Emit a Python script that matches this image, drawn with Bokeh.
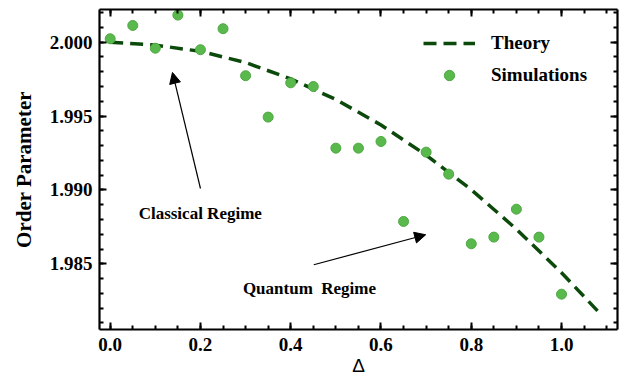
from bokeh.plotting import figure
from bokeh.models import (LinearAxis, SingleIntervalTicker, NumeralTickFormatter,
                          CustomJSTickFormatter, Legend, LegendItem, Arrow, NormalHead,
                          Label, Range1d)
from bokeh.embed import file_html
from bokeh.resources import INLINE

# ---- data ----
sim_delta = [0.00, 0.05, 0.10, 0.15, 0.20, 0.25, 0.30, 0.35, 0.40, 0.45, 0.50,
             0.55, 0.60, 0.65, 0.70, 0.75, 0.80, 0.85, 0.90, 0.95, 1.00]
sim_order = [2.00023, 2.00113, 1.99959, 2.00183, 1.99949, 2.00091, 1.99773,
             1.99493, 1.99725, 1.99700, 1.99283, 1.99283, 1.99328, 1.98787,
             1.99256, 1.99107, 1.98636, 1.98681, 1.98870, 1.98681, 1.98295]

theory_delta = [0.00, 0.10, 0.20, 0.30, 0.40, 0.50, 0.60, 0.70, 0.80, 0.90, 1.00, 1.082]
theory_order = [2.00000, 1.99980, 1.99938, 1.99862, 1.99752, 1.99612, 1.99440,
                1.99236, 1.99002, 1.98735, 1.98440, 1.98175]

x_ticks_interval = 0.2
y_ticks_interval = 0.005

SERIF = "Liberation Serif"
SANS = "Liberation Sans"

p = figure(width=626, height=378, output_backend="svg", toolbar_location=None,
           x_range=Range1d(-0.0237, 1.124), y_range=Range1d(1.98056, 2.00221),
           min_border_left=99, min_border_right=9, min_border_top=9, min_border_bottom=49,
           x_axis_location=None, y_axis_location=None)
p.frame_width = 518
p.frame_height = 320
p.outline_line_color = None
p.xgrid.visible = False
p.ygrid.visible = False
p.background_fill_color = "white"
p.border_fill_color = "white"

blank = CustomJSTickFormatter(code="return ''")


def style_axis(ax, show_labels):
    ax.axis_line_width = 2.2
    ax.axis_line_color = "black"
    ax.major_tick_in = 7
    ax.major_tick_out = 0
    ax.minor_tick_in = 4
    ax.minor_tick_out = 0
    ax.major_tick_line_width = 2
    ax.minor_tick_line_width = 2
    ax.major_tick_line_color = "black"
    ax.minor_tick_line_color = "black"
    if show_labels:
        ax.major_label_text_font = SERIF
        ax.major_label_text_font_style = "bold"
        ax.major_label_text_font_size = "19px"
        ax.major_label_text_color = "black"
    else:
        ax.formatter = blank
        ax.major_label_standoff = 0


xt = SingleIntervalTicker(interval=x_ticks_interval, num_minor_ticks=4)
yt = SingleIntervalTicker(interval=y_ticks_interval, num_minor_ticks=5)

xb = LinearAxis(ticker=xt, formatter=NumeralTickFormatter(format="0.0"), axis_label="Δ")
style_axis(xb, True)
xb.major_label_standoff = 8
xb.axis_label_standoff = 1
xb.axis_label_text_font = SANS
xb.axis_label_text_font_style = "normal"
xb.axis_label_text_font_size = "19px"
xb.axis_label_text_color = "black"
p.add_layout(xb, "below")

yl = LinearAxis(ticker=yt, formatter=NumeralTickFormatter(format="0.000"),
                axis_label="Order Parameter")
style_axis(yl, True)
yl.major_label_standoff = 7
yl.axis_label_standoff = 11
yl.axis_label_text_font = SERIF
yl.axis_label_text_font_style = "bold"
yl.axis_label_text_font_size = "21px"
yl.axis_label_text_color = "black"
p.add_layout(yl, "left")

xt2 = LinearAxis(ticker=xt)
style_axis(xt2, False)
p.add_layout(xt2, "above")

yr = LinearAxis(ticker=yt)
style_axis(yr, False)
p.add_layout(yr, "right")

theory = p.line(theory_delta, theory_order, line_color="#0b4a0b", line_width=3.5,
                line_dash="13 7")
sims = p.scatter(sim_delta, sim_order, size=10, fill_color="#5ab94d",
                 line_color="#4fa843", line_width=1)

legend = Legend(items=[LegendItem(label="Theory", renderers=[theory]),
                       LegendItem(label="Simulations", renderers=[sims])],
                location=(324, 241), border_line_color=None,
                background_fill_alpha=0, padding=0, margin=0,
                glyph_width=52, glyph_height=26, spacing=6, label_standoff=16,
                label_text_font=SERIF, label_text_font_style="bold",
                label_text_font_size="19px", label_text_color="black")
p.add_layout(legend)

head_kw = dict(size=11, fill_color="black", line_color="black", line_width=1)
p.add_layout(Arrow(end=NormalHead(**head_kw), x_start=0.200, y_start=1.9901,
                   x_end=0.138, y_end=1.99795, line_width=1.2, line_color="black"))
p.add_layout(Arrow(end=NormalHead(**head_kw), x_start=0.451, y_start=1.98494,
                   x_end=0.699, y_end=1.98697, line_width=1.2, line_color="black"))

p.add_layout(Label(x=0.063, y=1.9884, text="Classical Regime", text_font=SERIF,
                   text_font_style="bold", text_font_size="17px",
                   text_baseline="middle", text_color="black"))
p.add_layout(Label(x=0.294, y=1.98333, text="Quantum\u00a0\u00a0Regime", text_font=SERIF,
                   text_font_style="bold", text_font_size="17px",
                   text_baseline="middle", text_color="black"))

open("out.html", "w").write(file_html(p, INLINE))
